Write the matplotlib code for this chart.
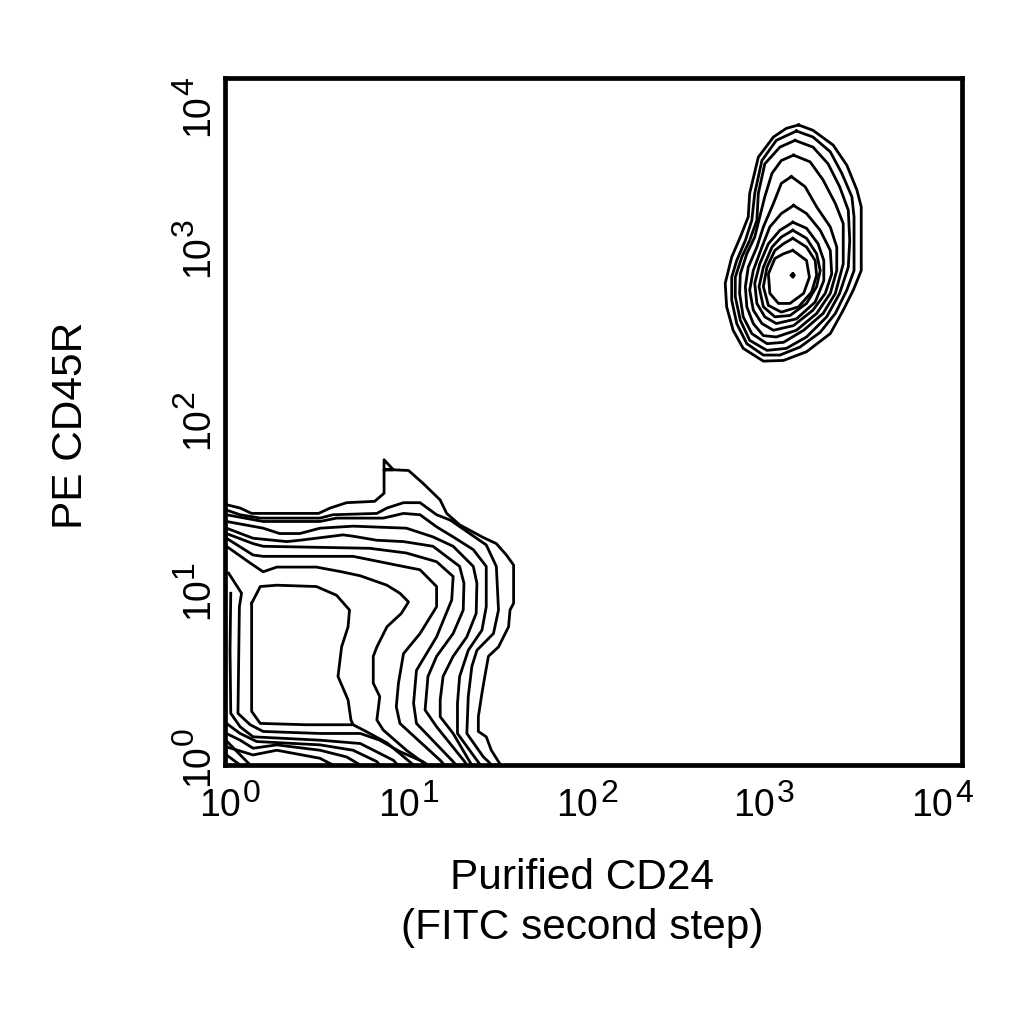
import matplotlib
matplotlib.use("Agg")
import matplotlib.pyplot as plt
import numpy as np

plt.rcParams["font.family"] = ["Liberation Sans", "DejaVu Sans"]

CHANNELS_PER_DECADE = 256  # 4 decades over 1024 channels

# contour lines of the low population, (x channel, y channel)
LOW_1 = [(2, 388), (21, 383), (37, 375), (130, 375), (146, 383), (169, 391), (208, 393), (221, 405), (221, 455),
         (234, 440), (221, 440), (234, 440), (255, 439), (275, 420), (299, 395), (308, 375), (326, 358), (359, 339),
         (377, 330), (391, 313), (401, 298), (401, 241), (396, 231), (394, 206), (380, 176), (366, 162), (361, 132),
         (357, 107), (352, 72), (352, 50), (363, 42), (370, 22), (380, 5), (383, 0)]
LOW_2 = [(2, 380), (21, 373), (49, 368), (132, 368), (150, 373), (211, 375), (225, 383), (248, 391), (271, 391),
         (294, 373), (313, 365), (336, 348), (363, 328), (377, 296), (380, 231), (373, 196), (350, 171), (343, 147),
         (338, 102), (336, 47), (359, 12), (366, 5), (370, 0)]
LOW_3 = [(2, 373), (53, 363), (132, 363), (155, 368), (220, 368), (248, 375), (271, 373), (294, 355), (317, 340),
         (345, 321), (363, 296), (363, 236), (357, 201), (338, 171), (326, 132), (323, 92), (323, 47), (350, 7),
         (355, 0)]
LOW_4 = [(2, 363), (53, 353), (76, 345), (104, 345), (132, 353), (178, 356), (252, 353), (289, 340), (317, 326),
         (345, 296), (350, 271), (349, 226), (336, 191), (317, 162), (303, 132), (299, 97), (299, 72), (317, 47),
         (340, 5), (343, 0)]
LOW_5 = [(2, 353), (39, 338), (86, 333), (104, 335), (164, 343), (178, 341), (211, 335), (248, 333), (289, 326),
         (326, 296), (332, 271), (331, 231), (317, 196), (294, 162), (282, 132), (278, 82), (294, 57), (333, 5),
         (336, 0)]
LOW_6 = [(2, 345), (39, 330), (53, 326), (201, 323), (252, 316), (294, 303), (317, 281), (315, 246), (294, 191),
         (266, 141), (262, 92), (266, 62), (317, 5), (321, 0)]
LOW_7 = [(2, 338), (39, 313), (53, 311), (178, 311), (238, 298), (271, 291), (294, 266), (294, 236), (271, 196),
         (248, 166), (241, 122), (238, 87), (243, 62), (299, 7), (305, 0)]
LOW_8 = [(2, 326), (35, 301), (53, 288), (72, 295), (127, 295), (162, 288), (188, 282), (225, 268), (243, 256),
         (255, 243), (245, 226), (225, 206), (211, 176), (206, 162), (206, 122), (215, 102), (211, 67), (220, 52),
         (252, 22), (280, 0)]
LOW_9 = [(37, 241), (49, 266), (72, 268), (127, 266), (155, 253), (173, 231), (171, 206), (162, 176), (157, 132),
         (171, 97), (175, 67), (178, 60), (113, 60), (49, 62), (37, 80), (37, 241)]
LOW_10 = [(5, 286), (23, 256), (20, 236), (18, 77), (35, 60), (53, 50), (132, 47), (188, 47), (215, 37), (243, 20),
          (275, 5), (282, 0)]
LOW_11 = [(8, 256), (7, 171), (8, 77), (21, 57), (39, 42), (132, 37), (188, 32), (234, 7), (240, 0)]
LOW_12 = [(2, 62), (21, 47), (44, 35), (132, 30), (178, 22), (211, 5), (215, 0)]
LOW_13 = [(2, 47), (21, 37), (39, 25), (72, 30), (132, 22), (169, 12), (188, 0)]
LOW_14 = [(2, 27), (39, 15), (72, 22), (132, 10), (150, 0)]
LOW_15 = [(2, 15), (21, 0)]
LOW_16 = [(2, 36), (35, 0)]
LOW_17 = [(178, 60), (196, 50), (225, 33), (262, 0)]

# closed contours of the high population, outermost first
HIGH_1 = [(797, 954), (817, 946), (845, 924), (864, 894), (878, 857), (884, 832), (884, 737), (873, 708), (859, 678),
          (841, 643), (808, 616), (776, 603), (748, 602), (720, 621), (706, 648), (697, 683), (695, 718), (704, 757),
          (716, 787), (727, 817), (729, 852), (741, 906), (762, 936), (780, 949)]
HIGH_2 = [(794, 945), (817, 936), (841, 914), (857, 882), (871, 847), (874, 817), (874, 737), (864, 708), (848, 673),
          (827, 645), (799, 623), (771, 611), (748, 611), (725, 628), (711, 658), (704, 693), (704, 727), (711, 752),
          (723, 782), (732, 812), (736, 852), (746, 901), (766, 931)]
HIGH_3 = [(792, 931), (817, 921), (838, 896), (854, 862), (866, 827), (868, 782), (866, 742), (854, 703), (836, 668),
          (808, 638), (780, 621), (753, 618), (729, 633), (716, 663), (709, 698), (709, 727), (718, 757), (729, 782),
          (739, 812), (741, 852), (750, 896), (771, 921)]
HIGH_4 = [(790, 909), (813, 899), (831, 872), (848, 837), (859, 807), (859, 747), (848, 703), (831, 673), (804, 648),
          (776, 630), (753, 628), (732, 643), (720, 668), (715, 703), (716, 732), (725, 762), (736, 787), (743, 817),
          (750, 847), (760, 882), (773, 901)]
HIGH_5 = [(787, 877), (806, 862), (822, 832), (841, 802), (850, 772), (850, 737), (841, 703), (822, 673), (794, 648),
          (766, 638), (748, 640), (734, 658), (725, 683), (723, 713), (727, 742), (739, 772), (748, 802), (762, 837),
          (773, 867)]
HIGH_6 = [(790, 834), (808, 822), (827, 797), (841, 767), (843, 732), (834, 703), (817, 678), (790, 655), (762, 648),
          (746, 658), (734, 678), (729, 708), (734, 737), (746, 772), (757, 802), (773, 822)]
HIGH_7 = [(789, 809), (808, 800), (824, 777), (832, 752), (832, 722), (820, 690), (794, 665), (766, 658), (750, 668),
          (739, 688), (736, 718), (743, 747), (755, 777), (771, 797)]
HIGH_8 = [(789, 797), (808, 785), (822, 762), (827, 737), (822, 713), (808, 688), (785, 670), (764, 668), (748, 683),
          (742, 713), (748, 742), (760, 772), (773, 787)]
HIGH_9 = [(789, 785), (808, 772), (820, 752), (822, 730), (815, 705), (797, 683), (773, 675), (755, 685), (748, 713),
          (753, 742), (764, 767), (776, 777)]
HIGH_10 = [(789, 767), (808, 752), (812, 727), (804, 703), (785, 688), (769, 688), (757, 703), (755, 732), (764, 755),
           (776, 762)]
HIGH_11 = [(787, 730), (789, 733), (791, 730), (789, 727)]

LOW_LINES = [LOW_1, LOW_2, LOW_3, LOW_4, LOW_5, LOW_6, LOW_7, LOW_8, LOW_9, LOW_10, LOW_11, LOW_12, LOW_13, LOW_14,
             LOW_15, LOW_16, LOW_17]
HIGH_LINES = [HIGH_1, HIGH_2, HIGH_3, HIGH_4, HIGH_5, HIGH_6, HIGH_7, HIGH_8, HIGH_9, HIGH_10, HIGH_11]

DECADES = ["0", "1", "2", "3", "4"]
XLABEL = "Purified CD24\n(FITC second step)"
YLABEL = "PE CD45R"


def to_value(channels):
    return 10 ** (np.asarray(channels, dtype=float) / CHANNELS_PER_DECADE)


def fx(px):
    return px / 1024


def fy(py):
    return 1 - py / 1024


fig = plt.figure(figsize=(10.24, 10.24), dpi=100)
ax = fig.add_axes([225 / 1024, 1 - 765 / 1024, 737 / 1024, 687 / 1024])
ax.set_xscale("log")
ax.set_yscale("log")
ax.set_xlim(1, 1e4)
ax.set_ylim(1, 1e4)
ax.minorticks_off()
ax.set_xticks([])
ax.set_yticks([])

for line in LOW_LINES:
    pts = np.array(line)
    ax.plot(to_value(pts[:, 0]), to_value(pts[:, 1]), color="black", lw=2)

for line in HIGH_LINES:
    pts = np.array(line + line[:1])
    ax.plot(to_value(pts[:, 0]), to_value(pts[:, 1]), color="black", lw=2)

for spine in ax.spines.values():
    spine.set_linewidth(3.4)

# big superscripts in the original, so base and exponent are separate texts
BASE_SIZE = 27
EXP_SIZE = 23
x_label_left = [199, 378, 556, 733, 911]
y_label_bottom = [786, 619, 449, 277, 136]
for d, px in zip(DECADES, x_label_left):
    fig.text(fx(px), fy(816), "10", fontsize=BASE_SIZE, ha="left", va="baseline")
    fig.text(fx(px + 44), fy(802), d, fontsize=EXP_SIZE, ha="left", va="baseline")
for d, py in zip(DECADES, y_label_bottom):
    fig.text(fx(208), fy(py), "10", fontsize=BASE_SIZE, rotation=90, rotation_mode="anchor",
             ha="left", va="baseline")
    fig.text(fx(193), fy(py - 41), d, fontsize=EXP_SIZE, rotation=90, rotation_mode="anchor",
             ha="left", va="baseline")

fig.text(fx(582), fy(903), XLABEL, fontsize=30.5, ha="center", va="center", linespacing=1.33)
fig.text(fx(71), fy(425), YLABEL, fontsize=30.5, rotation=90, ha="center", va="center")

fig.savefig("out.png", dpi=100)
